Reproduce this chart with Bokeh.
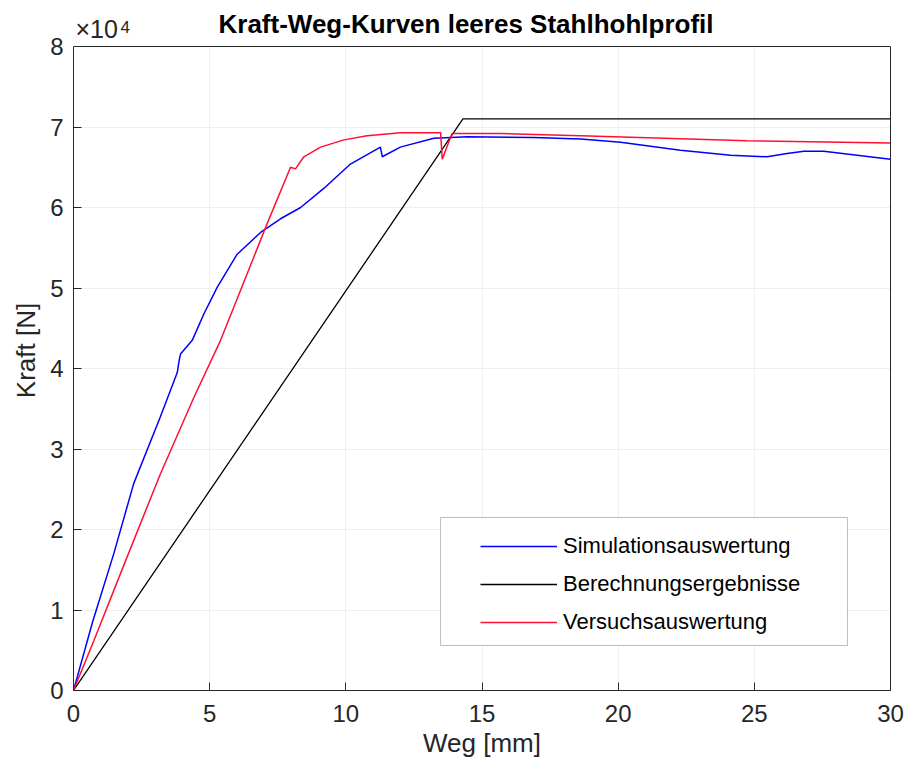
from bokeh.plotting import figure
from bokeh.models import (Label, Legend, LegendItem, CustomJSTickFormatter, Range1d, FixedTicker,
                          BoxAnnotation, Span, LinearAxis)
from bokeh.embed import file_html
from bokeh.resources import INLINE

# Data (x in mm, force in N)
sim_x = [0, 0.7, 1.48, 2.21, 3.19, 3.81, 3.88, 3.93, 4.36, 4.79, 5.28, 6.01, 6.87, 7.60, 8.34,
         9.2, 10.17, 10.8, 11.27, 11.34, 12.0, 13.23, 14.46, 16.9, 18.62, 20.09, 22.29, 24.13,
         25.47, 26.2, 26.82, 27.55, 30]
sim_y = [0, 8500, 17000, 25700, 34000, 39500, 41000, 41800, 43500, 46800, 50100, 54200, 56900,
         58600, 60000, 62400, 65400, 66600, 67500, 66300, 67500, 68600, 68800, 68700, 68500,
         68100, 67100, 66500, 66300, 66700, 67000, 67000, 66000]

calc_x = [0, 14.3, 30]
calc_y = [0, 71000, 71000]

exp_x = [0, 0.75, 1.97, 3.19, 4.42, 5.4, 6.38, 7.11, 7.97, 8.15, 8.46, 9.07, 9.93, 10.78, 12.0,
         13.48, 13.54, 13.9, 15.68, 18.62, 24.74, 30]
exp_y = [0, 6200, 16600, 26900, 36400, 43500, 51800, 58000, 65000, 64800, 66300, 67500, 68400,
         68900, 69300, 69300, 66000, 69200, 69200, 68900, 68300, 68000]

series_labels = ["Simulationsauswertung", "Berechnungsergebnisse", "Versuchsauswertung"]
title_text = "Kraft-Weg-Kurven leeres Stahlhohlprofil"
x_ticks = [0, 5, 10, 15, 20, 25, 30]
y_ticks = [0, 10000, 20000, 30000, 40000, 50000, 60000, 70000, 80000]
X_MAX = 30
Y_MAX = 80000

FONT = "Liberation Sans"
AX = "#262626"

# frame extends a little above the axes box so that the title and the
# exponent label (drawn as labels) are not clipped
AX_TOP_PX, FRAME_TOP_PX, AX_BOTTOM_PX = 46, 10, 690
y_top = Y_MAX * (AX_BOTTOM_PX - FRAME_TOP_PX) / (AX_BOTTOM_PX - AX_TOP_PX)

p = figure(width=907, height=772, output_backend="svg", toolbar_location=None,
           x_range=Range1d(0, X_MAX), y_range=Range1d(0, y_top),
           min_border_left=73, min_border_right=17, min_border_top=FRAME_TOP_PX,
           min_border_bottom=82)
p.title.text = ""
p.title.visible = False
p.outline_line_color = None

def style_axis(ax):
    ax.axis_line_color = AX
    ax.major_tick_line_color = AX
    ax.major_tick_in = 8
    ax.major_tick_out = 0
    ax.minor_tick_line_color = None
    ax.major_label_text_font = FONT
    ax.major_label_text_font_size = "24px"
    ax.major_label_text_color = AX
    ax.axis_label_text_font = FONT
    ax.axis_label_text_font_size = "26px"
    ax.axis_label_text_font_style = "normal"
    ax.axis_label_text_color = AX

xa = p.xaxis[0]
xa.ticker = FixedTicker(ticks=x_ticks)
xa.axis_label = "Weg [mm]"
style_axis(xa)
xa.major_label_standoff = 14
xa.axis_label_standoff = 3

ya = p.yaxis[0]
ya.ticker = FixedTicker(ticks=y_ticks)
ya.bounds = (0, Y_MAX)
ya.formatter = CustomJSTickFormatter(code="return (tick/10000).toFixed(0);")
ya.axis_label = "Kraft [N]"
style_axis(ya)
ya.major_label_standoff = 10
ya.axis_label_standoff = 6

ra = LinearAxis(ticker=FixedTicker(ticks=[]), bounds=(0, Y_MAX), axis_line_color=AX,
                major_tick_line_color=None, minor_tick_line_color=None)
p.add_layout(ra, "right")

p.xgrid.ticker = FixedTicker(ticks=x_ticks)
p.ygrid.ticker = FixedTicker(ticks=y_ticks)
p.grid.grid_line_color = "#efefef"

r1 = p.line(sim_x, sim_y, line_color="#0000ff", line_width=1.5)
r2 = p.line(calc_x, calc_y, line_color="#000000", line_width=1.3)
r3 = p.line(exp_x, exp_y, line_color="#ff1030", line_width=1.5)

# blank strip above the axes box, and the top edge of the box
p.add_layout(BoxAnnotation(bottom=Y_MAX, fill_color="white", fill_alpha=1, line_color=None))
p.add_layout(Span(location=Y_MAX, dimension="width", line_color=AX, line_width=1))

# title and exponent label
p.add_layout(Label(x=X_MAX / 2, y=Y_MAX, x_offset=-16, y_offset=8, text=title_text,
                   text_font=FONT, text_font_size="26px", text_font_style="bold",
                   text_align="center", text_color="black"))
p.add_layout(Label(x=0, y=Y_MAX, x_offset=2, y_offset=4, text="×10", text_font=FONT,
                   text_font_size="25px", text_color=AX))
p.add_layout(Label(x=0, y=Y_MAX, x_offset=47, y_offset=14, text="4", text_font=FONT,
                   text_font_size="17px", text_color=AX))

# legend frame
p.add_layout(BoxAnnotation(left=13.48, right=28.42, bottom=5590, top=21490,
                           fill_color="white", fill_alpha=1, line_color=AX, line_width=1))

legend = Legend(items=[LegendItem(label=series_labels[0], renderers=[r1]),
                       LegendItem(label=series_labels[1], renderers=[r2]),
                       LegendItem(label=series_labels[2], renderers=[r3])],
                location=(407, 53))
legend.label_text_font = FONT
legend.label_text_font_size = "22px"
legend.label_text_color = "black"
legend.glyph_width = 77
legend.glyph_height = 30
legend.label_height = 30
legend.spacing = 8
legend.padding = 0
legend.margin = 0
legend.label_standoff = 6
legend.border_line_color = None
legend.background_fill_alpha = 0
p.add_layout(legend, "center")

open("out.html", "w").write(file_html(p, INLINE))
